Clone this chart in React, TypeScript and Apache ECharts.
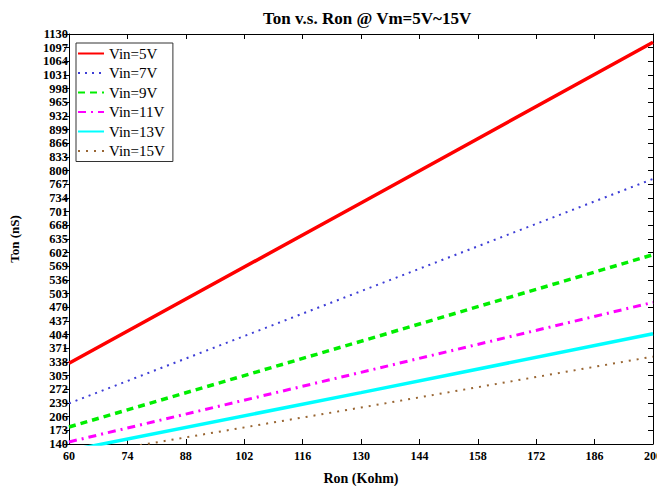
import React, { useEffect, useRef } from "react";
import * as echarts from "echarts";

const ronValues = [60, 130, 200];
const vin5 = [335, 722, 1110];
const vin7 = [238, 509, 780];
const vin9 = [181, 388, 597];
const vin11 = [145, 313, 482];
const vin13 = [124, 264, 406];
const vin15 = [108, 228, 351];
const seriesNames = ["Vin=5V", "Vin=7V", "Vin=9V", "Vin=11V", "Vin=13V", "Vin=15V"];

const FONT = "Liberation Serif";

export default function App() {
  const ref = useRef<HTMLDivElement>(null);
  useEffect(() => {
    if (!ref.current) return;
    const chart = echarts.init(ref.current, undefined, { renderer: "svg" });
    const toPairs = (vals: number[]) => ronValues.map((x, i) => [x, vals[i]]);
    const styles = [
      { color: "#ff0000", width: 3.5, type: "solid" },
      { color: "#3d3dd6", width: 2, type: [2, 5] },
      { color: "#00ee00", width: 3.5, type: [7, 5] },
      { color: "#ff00ff", width: 3, type: [8, 5, 2, 5] },
      { color: "#00ffff", width: 3.5, type: "solid" },
      { color: "#996633", width: 2, type: [2, 6] },
    ];
    const datas = [vin5, vin7, vin9, vin11, vin13, vin15];
    const fmt = (v: number) => String(v);
    chart.setOption({
      animation: false,
      backgroundColor: "#fff",
      title: {
        text: "Ton v.s. Ron @ Vm=5V~15V",
        left: 258,
        top: 5,
        textStyle: { fontFamily: FONT, fontWeight: "bold", fontSize: 17, color: "#000" },
      },
      legend: {
        orient: "vertical",
        left: 76,
        top: 43,
        padding: [3, 8, 3, 1],
        itemGap: 4.5,
        itemWidth: 26,
        itemHeight: 14,
        borderColor: "#333",
        borderWidth: 1,
        backgroundColor: "#fff",
        itemStyle: { opacity: 0 },
        textStyle: { fontFamily: FONT, fontSize: 15, color: "#000" },
        data: seriesNames,
      },
      grid: { left: 67, right: 10, top: 34, bottom: 50, containLabel: false },
      xAxis: [
        {
          type: "value",
          min: 60,
          max: 200,
          interval: 14,
          name: "Ron (Kohm)",
          nameLocation: "middle",
          nameGap: 27,
          nameTextStyle: { fontFamily: FONT, fontWeight: "bold", fontSize: 14, color: "#000" },
          axisLine: { show: true, lineStyle: { color: "#000", width: 1 } },
          axisTick: { show: true, inside: true, length: 5, lineStyle: { color: "#000" } },
          axisLabel: {
            fontFamily: FONT, fontWeight: "bold", fontSize: 12, color: "#000", margin: 6, formatter: fmt,
            showMinLabel: true, showMaxLabel: true, hideOverlap: false,
          },
          splitLine: { show: false },
        },
        {
          type: "value",
          position: "top",
          min: 60,
          max: 200,
          interval: 14,
          axisLine: { show: true, lineStyle: { color: "#000", width: 1 } },
          axisTick: { show: true, inside: true, length: 5, lineStyle: { color: "#000" } },
          axisLabel: { show: false },
          splitLine: { show: false },
        },
      ],
      yAxis: [
        {
          type: "value",
          min: 140,
          max: 1130,
          interval: 33,
          name: "Ton (nS)",
          nameLocation: "middle",
          nameGap: 48,
          nameTextStyle: { fontFamily: FONT, fontWeight: "bold", fontSize: 13, color: "#000" },
          axisLine: { show: true, lineStyle: { color: "#000", width: 1 } },
          axisTick: { show: true, inside: false, length: 5, lineStyle: { color: "#000" } },
          axisLabel: {
            fontFamily: FONT, fontWeight: "bold", fontSize: 12.5, color: "#000", margin: 1, formatter: fmt,
            showMinLabel: true, showMaxLabel: true, hideOverlap: false,
          },
          splitLine: { show: false },
        },
        {
          type: "value",
          position: "right",
          min: 140,
          max: 1130,
          interval: 33,
          axisLine: { show: true, lineStyle: { color: "#000", width: 1 } },
          axisTick: { show: true, inside: true, length: 5, lineStyle: { color: "#000" } },
          axisLabel: { show: false },
          splitLine: { show: false },
        },
      ],
      series: seriesNames.map((name, i) => ({
        name,
        type: "line",
        xAxisIndex: 0,
        yAxisIndex: 0,
        data: toPairs(datas[i]),
        symbol: "none",
        clip: true,
        itemStyle: { color: styles[i].color },
        lineStyle: { color: styles[i].color, width: styles[i].width, type: styles[i].type },
      })),
    });
    return () => chart.dispose();
  }, []);
  return <div ref={ref} style={{ width: 665, height: 494, margin: -8 }} />;
}
